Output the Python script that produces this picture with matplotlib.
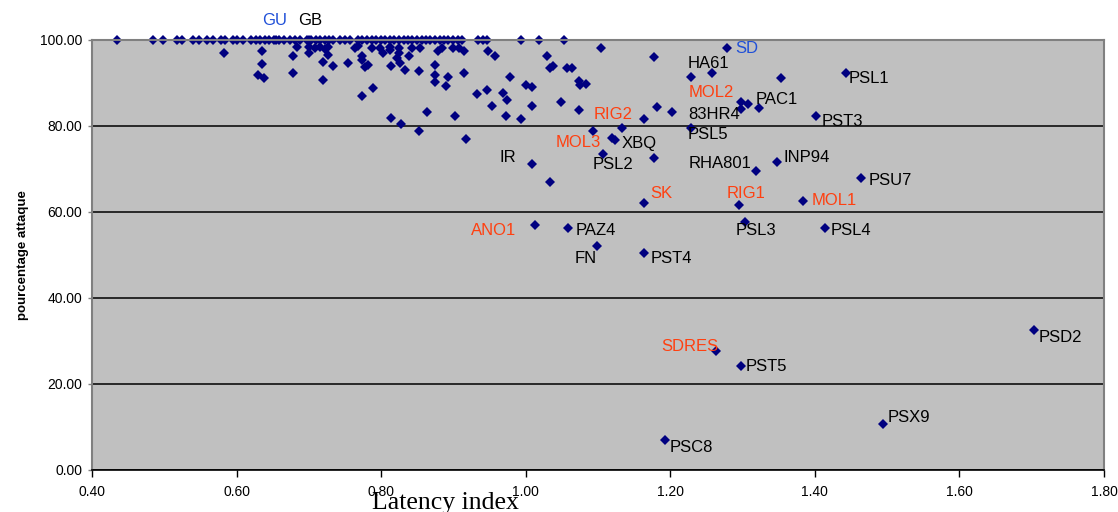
import matplotlib
matplotlib.use("Agg")
import matplotlib.pyplot as plt

# points sitting on the 100 % line
top_x = [0.435, 0.484, 0.498, 0.518, 0.524, 0.540, 0.548, 0.559, 0.568, 0.578,
         0.584, 0.595, 0.600, 0.609, 0.620, 0.627, 0.633, 0.640, 0.645, 0.652,
         0.658, 0.665, 0.674, 0.681, 0.688, 0.697, 0.703, 0.710, 0.716, 0.722,
         0.728, 0.733, 0.743, 0.750, 0.757, 0.768, 0.774, 0.780, 0.787, 0.793,
         0.800, 0.806, 0.812, 0.818, 0.825, 0.831, 0.837, 0.843, 0.850, 0.856,
         0.862, 0.868, 0.875, 0.881, 0.887, 0.893, 0.900, 0.906, 0.912, 0.934,
         0.941, 0.946, 0.993, 1.018, 1.053]

# other unlabelled points
pts_x = [0.583, 0.635, 0.635, 0.629, 0.638, 0.684, 0.678, 0.678, 0.700, 0.708,
         0.715, 0.727, 0.700, 0.727, 0.722, 0.719, 0.734, 0.719, 0.754, 0.764,
         0.768, 0.773, 0.774, 0.782, 0.778, 0.788, 0.798, 0.803, 0.812, 0.812,
         0.824, 0.825, 0.822, 0.826, 0.833, 0.838, 0.842, 0.854, 0.813, 0.853,
         0.874, 0.874, 0.874, 0.879, 0.884, 0.893, 0.890, 0.900, 0.907, 0.914,
         0.914, 0.789, 0.773, 0.863, 0.813, 0.828, 0.853, 0.902, 0.917, 0.933,
         0.947, 0.948, 0.957, 1.104, 1.029, 1.034, 1.038, 1.057, 1.064, 0.978,
         1.001, 1.008, 1.073, 1.075, 1.083, 0.969, 0.974, 0.954, 1.008, 1.049,
         1.074, 0.973, 0.994, 1.178, 1.182, 1.203, 1.133, 1.034, 1.178, 1.258,
         1.353, 1.308, 1.119]
pts_y = [96.9, 97.4, 94.3, 91.7, 91.0, 98.4, 96.3, 92.2, 98.4, 98.1,
         98.4, 98.4, 97.0, 96.5, 97.9, 94.8, 93.9, 90.7, 94.5, 98.1,
         98.6, 96.1, 95.3, 94.2, 93.6, 98.1, 98.1, 97.0, 98.4, 97.7,
         98.1, 96.9, 95.7, 94.5, 93.0, 96.3, 98.1, 98.1, 93.8, 92.8,
         94.2, 91.8, 90.1, 97.3, 98.1, 91.3, 89.3, 98.1, 98.1, 97.3,
         92.2, 88.7, 86.9, 83.2, 81.7, 80.5, 78.8, 82.3, 76.8, 87.3,
         88.3, 97.3, 96.3, 98.1, 96.1, 93.4, 93.9, 93.4, 93.4, 91.3,
         89.5, 89.1, 90.3, 89.5, 89.7, 87.5, 86.0, 84.6, 84.6, 85.6,
         83.6, 82.3, 81.5, 96.0, 84.3, 83.1, 79.5, 66.9, 72.5, 92.2,
         91.0, 85.0, 77.2]

# labelled points
names = ["GU", "GB", "SD", "HA61", "PSL1", "MOL2", "PAC1", "83HR4", "PST3", "PSL5",
         "RIG2", "MOL3", "XBQ", "PSL2", "IR", "RHA801", "INP94", "PSU7", "SK", "RIG1",
         "MOL1", "PSL3", "PSL4", "ANO1", "PAZ4", "FN", "PST4", "SDRES", "PST5", "PSX9",
         "PSC8", "PSD2"]
lab_x = [0.655, 0.700, 1.279, 1.228, 1.443, 1.298, 1.323, 1.298, 1.402, 1.228,
         1.163, 1.093, 1.123, 1.107, 1.009, 1.319, 1.348, 1.464, 1.163, 1.295,
         1.384, 1.304, 1.414, 1.013, 1.059, 1.098, 1.163, 1.263, 1.298, 1.494,
         1.193, 1.703]
lab_y = [100.0, 100.0, 98.0, 91.3, 92.2, 85.6, 84.0, 83.8, 82.3, 79.5,
         81.5, 78.8, 76.6, 73.4, 71.2, 69.5, 71.6, 67.8, 62.1, 61.6,
         62.6, 57.5, 56.1, 56.9, 56.1, 52.1, 50.5, 27.6, 24.1, 10.7,
         6.9, 32.5]
groups = ["b", "k", "b", "k", "k", "r", "k", "k", "k", "k",
          "r", "r", "k", "k", "k", "k", "k", "k", "r", "r",
          "r", "k", "k", "r", "k", "k", "k", "r", "k", "k",
          "k", "k"]

# label placement (pixels from the point)
offsets = [(-14, 19), (-11, 19), (8, 0), (-3, 14), (3, -5), (-53, 9), (-4, 9), (-53, -5),
           (5, -6), (-3, -7), (-50, 5), (-37, -12), (7, -3), (-10, -10), (-33, 6), (-68, 7),
           (6, 4), (7, -2), (7, 9), (-12, 11), (8, 0), (-10, -8), (6, -2), (-64, -5),
           (7, -2), (-22, -13), (7, -6), (-55, 5), (4, 0), (5, 6), (4, -7), (5, -8)]
colors = {"b": "#2050d8", "k": "black", "r": "#ff4010"}

fig = plt.figure(figsize=(11.18, 5.12), dpi=100)
ax = fig.add_axes([0.0823, 0.0826, 0.9052, 0.8399])
ax.set_facecolor("#c0c0c0")

ax.plot(top_x, [100.0] * len(top_x), "D", color="#000080", ms=4.6, mew=0, clip_on=False)
ax.plot(pts_x, pts_y, "D", color="#000080", ms=4.6, mew=0)
ax.plot(lab_x, lab_y, "D", color="#000080", ms=4.6, mew=0, clip_on=False)

for n, x, y, g, off in zip(names, lab_x, lab_y, groups, offsets):
    ax.annotate(n, (x, y), xytext=off, textcoords="offset pixels",
                ha="left", va="center", fontsize=12, color=colors[g],
                family="Liberation Sans", annotation_clip=False)

ax.set_xlim(0.4, 1.8)
ax.set_ylim(0, 100)
ax.set_xticks([0.4, 0.6, 0.8, 1.0, 1.2, 1.4, 1.6, 1.8])
ax.set_yticks([0, 20, 40, 60, 80, 100])
ax.xaxis.set_major_formatter(matplotlib.ticker.FormatStrFormatter("%.2f"))
ax.yaxis.set_major_formatter(matplotlib.ticker.FormatStrFormatter("%.2f"))
for lbl in ax.get_xticklabels() + ax.get_yticklabels():
    lbl.set_family("Liberation Sans")
    lbl.set_fontsize(10)
ax.tick_params(axis="x", length=5, width=1, color="black", pad=6)
ax.tick_params(axis="y", length=3, width=1, color="#808080", pad=4)

ax.grid(axis="y", color="black", linewidth=1.1)
ax.set_axisbelow(True)
for side in ["left", "top", "right"]:
    ax.spines[side].set_color("#808080")
    ax.spines[side].set_linewidth(1.5)
ax.spines["bottom"].set_color("black")
ax.spines["bottom"].set_linewidth(1.2)

ax.set_ylabel("pourcentage attaque", fontsize=9.5, fontweight="bold",
              family="Liberation Sans", labelpad=8)
fig.text(445 / 1118, 0.006, "Latency index", ha="center", va="baseline",
         fontsize=18.5, family="Liberation Serif")

fig.savefig("out.png", dpi=100)
